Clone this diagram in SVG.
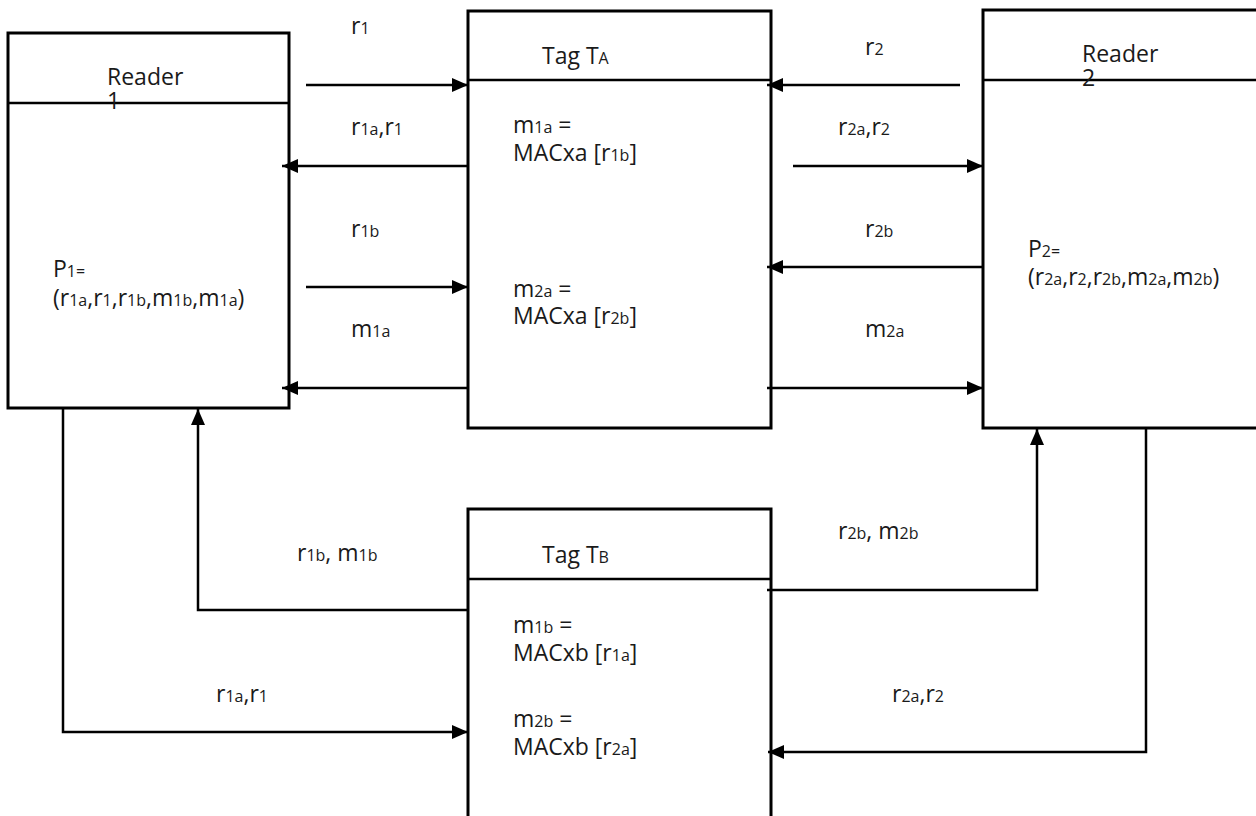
<svg xmlns="http://www.w3.org/2000/svg" width="1256" height="816" viewBox="0 0 1256 816">
<style>
.box{fill:#fff;stroke:#000;stroke-width:3}
.div{stroke:#000;stroke-width:2.5}
.c{fill:none;stroke:#000;stroke-width:2.5}
text{font-family:"Open Sans","Noto Sans",sans-serif;font-size:23px;fill:#1a1a1a}
.s{font-size:16px}
</style>
<defs>
<marker id="ah" markerUnits="userSpaceOnUse" markerWidth="16" markerHeight="14" refX="16" refY="7" orient="auto">
<path d="M0,0 L16,7 L0,14 z" fill="#000"/>
</marker>
</defs>
<rect width="1256" height="816" fill="#fff"/>

<g id="reader1">
<rect class="box" x="8" y="33" width="281" height="375"/>
<line class="div" x1="8" y1="103" x2="289" y2="103"/>
<text x="107" y="85">Reader</text>
<text x="107" y="109">1</text>
<text x="53" y="277">P<tspan class="s">1=</tspan></text>
<text x="53" y="306">(r<tspan class="s">1a</tspan>,r<tspan class="s">1</tspan>,r<tspan class="s">1b</tspan>,m<tspan class="s">1b</tspan>,m<tspan class="s">1a</tspan>)</text>
</g>

<g id="tagA">
<rect class="box" x="468" y="11" width="303" height="417"/>
<line class="div" x1="468" y1="80" x2="771" y2="80"/>
<text x="542" y="64">Tag T<tspan class="s">A</tspan></text>
<text x="513" y="133">m<tspan class="s">1a</tspan> =</text>
<text x="513" y="161">MACxa [r<tspan class="s">1b</tspan>]</text>
<text x="513" y="297">m<tspan class="s">2a</tspan> =</text>
<text x="513" y="324">MACxa [r<tspan class="s">2b</tspan>]</text>
</g>

<g id="reader2">
<rect class="box" x="983" y="10" width="300" height="418"/>
<line class="div" x1="983" y1="80" x2="1260" y2="80"/>
<text x="1082" y="62">Reader</text>
<text x="1082" y="86">2</text>
<text x="1028" y="257">P<tspan class="s">2=</tspan></text>
<text x="1028" y="285">(r<tspan class="s">2a</tspan>,r<tspan class="s">2</tspan>,r<tspan class="s">2b</tspan>,m<tspan class="s">2a</tspan>,m<tspan class="s">2b</tspan>)</text>
</g>

<g id="tagB">
<rect class="box" x="468" y="509" width="303" height="330"/>
<line class="div" x1="468" y1="579" x2="771" y2="579"/>
<text x="542" y="563">Tag T<tspan class="s">B</tspan></text>
<text x="513" y="633">m<tspan class="s">1b</tspan> =</text>
<text x="513" y="661">MACxb [r<tspan class="s">1a</tspan>]</text>
<text x="513" y="727">m<tspan class="s">2b</tspan> =</text>
<text x="513" y="755">MACxb [r<tspan class="s">2a</tspan>]</text>
</g>

<g id="connectors">
<path class="c" d="M306,85 H468" marker-end="url(#ah)"/>
<path class="c" d="M468,166 H282" marker-end="url(#ah)"/>
<path class="c" d="M306,287 H468" marker-end="url(#ah)"/>
<path class="c" d="M468,388 H282" marker-end="url(#ah)"/>
<path class="c" d="M960,85 H767" marker-end="url(#ah)"/>
<path class="c" d="M793,166 H983" marker-end="url(#ah)"/>
<path class="c" d="M983,267 H767" marker-end="url(#ah)"/>
<path class="c" d="M767,388 H983" marker-end="url(#ah)"/>
<path class="c" d="M767,590 H1037 V429" marker-end="url(#ah)"/>
<path class="c" d="M1146,428 V752 H768" marker-end="url(#ah)"/>
<path class="c" d="M468,610 H198 V409" marker-end="url(#ah)"/>
<path class="c" d="M63,408 V732 H468" marker-end="url(#ah)"/>
<text x="351" y="34">r<tspan class="s">1</tspan></text>
<text x="351" y="135">r<tspan class="s">1a</tspan>,r<tspan class="s">1</tspan></text>
<text x="351" y="237">r<tspan class="s">1b</tspan></text>
<text x="351" y="337">m<tspan class="s">1a</tspan></text>
<text x="865" y="55">r<tspan class="s">2</tspan></text>
<text x="838" y="135">r<tspan class="s">2a</tspan>,r<tspan class="s">2</tspan></text>
<text x="865" y="237">r<tspan class="s">2b</tspan></text>
<text x="865" y="337">m<tspan class="s">2a</tspan></text>
<text x="297" y="561">r<tspan class="s">1b</tspan>, m<tspan class="s">1b</tspan></text>
<text x="216" y="702">r<tspan class="s">1a</tspan>,r<tspan class="s">1</tspan></text>
<text x="838" y="539">r<tspan class="s">2b</tspan>, m<tspan class="s">2b</tspan></text>
<text x="892" y="702">r<tspan class="s">2a</tspan>,r<tspan class="s">2</tspan></text>
</g>
</svg>
